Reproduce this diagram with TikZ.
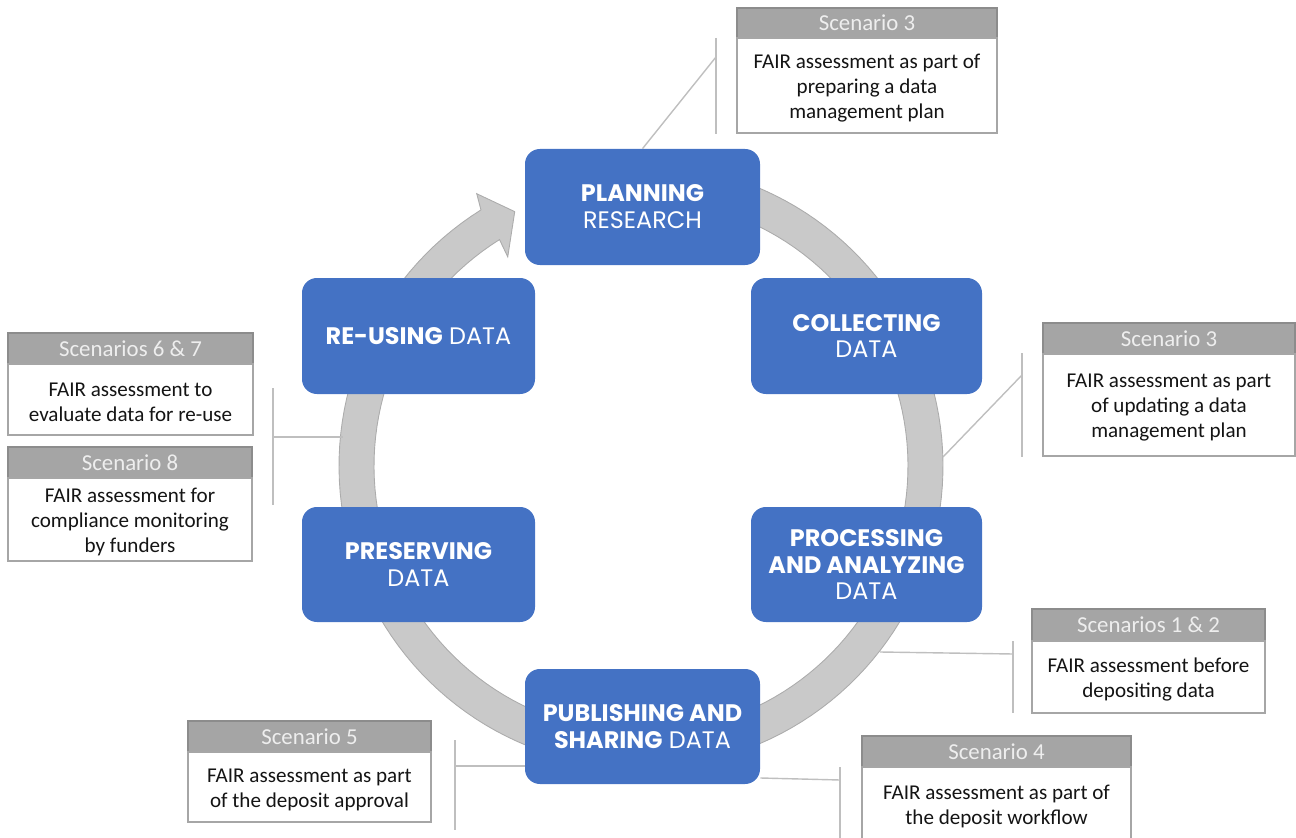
\documentclass[tikz,border=0pt]{standalone}
\usepackage{fontspec}
\setmainfont{Carlito}
\newfontfamily\gothic{Poppins}
\usetikzlibrary{fit}
\definecolor{blueone}{RGB}{68,114,196}
\definecolor{ringfill}{RGB}{201,201,201}
\definecolor{ringline}{RGB}{172,172,172}
\definecolor{hdrfill}{RGB}{165,165,165}
\definecolor{hdrline}{RGB}{140,140,140}
\definecolor{hdrtext}{RGB}{238,238,238}
\definecolor{bodyline}{RGB}{166,166,166}
\definecolor{connline}{RGB}{191,191,191}
\definecolor{bodytext}{RGB}{20,20,20}
\tikzset{
  stage/.style={fill=blueone, rounded corners=8.5pt, inner sep=0pt},
  stagetxt/.style={inner sep=0pt, text=white, align=center,
    font=\gothic\fontsize{13.6}{15.3}\selectfont},
  hdr/.style={fill=hdrfill, draw=hdrline, line width=0.7pt, inner sep=0pt},
  hdrtxt/.style={inner sep=0pt, text=hdrtext, font=\fontsize{13}{15}\selectfont},
  bodybox/.style={fill=white, draw=bodyline, line width=0.7pt, inner sep=0pt},
  bodytxt/.style={inner sep=0pt, align=center, text=bodytext, yshift=-1.5pt,
    font=\fontsize{12}{14.2}\selectfont},
  conn/.style={draw=connline, line width=0.8pt},
}
\begin{document}
\begin{tikzpicture}[x=0.02cm,y=-0.02cm]
\useasboundingbox (0,0) rectangle (1296,838);
\clip (0,0) rectangle (1296,838);
% circular arrow
\filldraw[fill=ringfill, draw=ringline, line width=0.5pt, line join=miter]
  plot[domain=122:435, samples=140] ({641+302*cos(\x)},{466-302*sin(\x)})
  -- plot[domain=435:122, samples=140] ({641+267*cos(\x)},{466-267*sin(\x)})
  -- ({641+248*cos(122.5)},{466-248*sin(122.5)})
  -- ({641+284*cos(116.4)},{466-284*sin(116.4)})
  -- ({641+318*cos(121.1)},{466-318*sin(121.1)})
  -- cycle;
% ring attachment points
\coordinate (rB) at (943,457);
\coordinate (rC) at (343,437);
\coordinate (rE) at (880,652);
% stages
\node[stage, fit={(525,149) (760,265)}] (plan) {};
\node[stagetxt] (tplan) at (plan.center) {\textbf{PLANNING}\\RESEARCH};
\node[stage, fit={(751,278) (982,394)}] (coll) {};
\node[stagetxt] (tcoll) at (coll.center) {\textbf{COLLECTING}\\DATA};
\node[stage, fit={(302,278) (535,394)}] (reuse) {};
\node[stagetxt] (treuse) at (reuse.center) {\textbf{RE-USING} DATA};
\node[stage, fit={(751,507) (982,622)}] (proc) {};
\node[stagetxt] (tproc) at (proc.center) {\textbf{PROCESSING}\\\textbf{AND ANALYZING}\\DATA};
\node[stage, fit={(302,507) (535,622)}] (pres) {};
\node[stagetxt] (tpres) at (pres.center) {\textbf{PRESERVING}\\DATA};
\node[stage, fit={(525,669) (760,784)}] (pub) {};
\node[stagetxt] (tpub) at (pub.center) {\textbf{PUBLISHING AND}\\\textbf{SHARING} DATA};
% scenario boxes
\node[hdr, fit={(737,8) (997,38)}] (hA) {};
\node[hdrtxt] (thA) at (hA.center) {Scenario 3};
\node[bodybox, fit={(737,38) (997,133)}] (bA) {};
\node[bodytxt] (tbA) at (bA.center) {FAIR assessment as part of\\preparing a data\\management plan};
\node[hdr, fit={(1043,323) (1295,354)}] (hB) {};
\node[hdrtxt] (thB) at (hB.center) {Scenario 3};
\node[bodybox, fit={(1043,354) (1295,456)}] (bB) {};
\node[bodytxt] (tbB) at (bB.center) {FAIR assessment as part\\of updating a data\\management plan};
\node[hdr, fit={(8,333) (253,364)}] (hC) {};
\node[hdrtxt] (thC) at (hC.center) {Scenarios 6 \& 7};
\node[bodybox, fit={(8,364) (253,435)}] (bC) {};
\node[bodytxt] (tbC) at (bC.center) {FAIR assessment to\\evaluate data for re-use};
\node[hdr, fit={(8,447) (252,478)}] (hD) {};
\node[hdrtxt] (thD) at (hD.center) {Scenario 8};
\node[bodybox, fit={(8,478) (252,561)}] (bD) {};
\node[bodytxt] (tbD) at (bD.center) {FAIR assessment for\\compliance monitoring\\by funders};
\node[hdr, fit={(1032,609) (1265,641)}] (hE) {};
\node[hdrtxt] (thE) at (hE.center) {Scenarios 1 \& 2};
\node[bodybox, fit={(1032,641) (1265,713)}] (bE) {};
\node[bodytxt] (tbE) at (bE.center) {FAIR assessment before\\depositing data};
\node[hdr, fit={(188,721) (431,752)}] (hF) {};
\node[hdrtxt] (thF) at (hF.center) {Scenario 5};
\node[bodybox, fit={(188,752) (431,822)}] (bF) {};
\node[bodytxt] (tbF) at (bF.center) {FAIR assessment as part\\of the deposit approval};
\node[hdr, fit={(862,736) (1131,767)}] (hG) {};
\node[hdrtxt] (thG) at (hG.center) {Scenario 4};
\node[bodybox, fit={(862,767) (1131,840)}] (bG) {};
\node[bodytxt] (tbG) at (bG.center) {FAIR assessment as part of\\the deposit workflow};
% connectors
\coordinate (a1) at (716,38); \coordinate (a2) at (716,134); \coordinate (a3) at (716,57);
\draw[conn] (a1) -- (a2);
\draw[conn] (a3) -- (plan.north);
\coordinate (b1) at (1022,353); \coordinate (b2) at (1022,457); \coordinate (b3) at (1022,375);
\draw[conn] (b1) -- (b2);
\draw[conn] (b3) -- (rB);
\coordinate (c1) at (273,388); \coordinate (c2) at (273,505); \coordinate (c3) at (273,437);
\draw[conn] (c1) -- (c2);
\draw[conn] (c3) -- (rC);
\coordinate (e1) at (1013,641); \coordinate (e2) at (1013,713); \coordinate (e3) at (1013,654);
\draw[conn] (e1) -- (e2);
\draw[conn] (e3) -- (rE);
\coordinate (f1) at (455,740); \coordinate (f2) at (455,830); \coordinate (f3) at (455,766);
\draw[conn] (f1) -- (f2);
\draw[conn] (f3) -- (f3 -| pub.west);
\coordinate (g1) at (840,767); \coordinate (g2) at (840,842); \coordinate (g3) at (840,780);
\draw[conn] (g1) -- (g2);
\draw[conn] (g3) -- (pub.east |- 0,778);
\end{tikzpicture}
\end{document}
